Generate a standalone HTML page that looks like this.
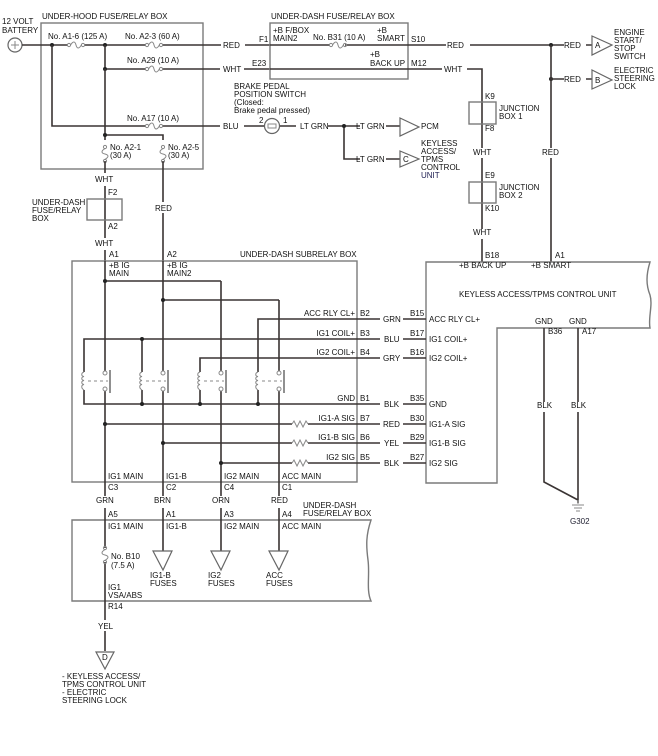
<!DOCTYPE html>
<html><head><meta charset="utf-8"><style>
html,body{margin:0;padding:0;background:#fff;}
svg{display:block;font-family:"Liberation Sans",Arial,sans-serif;font-size:8px;}
text{fill:#111;}
.w{stroke:#3a3433;stroke-width:1.6;fill:none;}
.b{stroke:#7a7a7a;stroke-width:1.4;fill:none;}
.t{stroke:#666;stroke-width:1.2;fill:#fff;}
.f{stroke:#888;stroke-width:1;fill:none;}
.n{fill:#222;}
</style></head><body>
<svg width="658" height="756" viewBox="0 0 658 756" xmlns="http://www.w3.org/2000/svg">
<defs>
<g id="fh"><circle cx="-7" cy="0" r="1.6" class="f"/><circle cx="7" cy="0" r="1.6" class="f"/><path d="M-5.4,0 C-3,-4 -1,-4 0,0 C1,4 3,4 5.4,0" class="f"/></g>
<g id="fv"><circle cx="0" cy="-7" r="1.6" class="f"/><circle cx="0" cy="7" r="1.6" class="f"/><path d="M0,-5.4 C-4,-3 -4,-1 0,0 C4,1 4,3 0,5.4" class="f"/></g>
<g id="res"><path d="M-8,0 L-6,-3 L-3,3 L0,-3 L3,3 L6,-3 L8,0" class="f"/></g>
<g id="coil"><path d="M0,-9 C-3,-8 -3,-5 0,-4.5 C-3,-4 -3,-1 0,-0.5 C-3,0 -3,3 0,3.5 C-3,4 -3,7 0,9" class="f"/></g>
</defs>

<!-- battery -->
<text x="2" y="24">12 VOLT</text><text x="2" y="33">BATTERY</text>
<circle cx="15" cy="45" r="7" class="t"/><path d="M11,45h8M15,41v8" class="f"/>

<!-- under-hood box -->
<text x="42" y="19">UNDER-HOOD FUSE/RELAY BOX</text>
<rect x="41" y="23" width="162" height="146" class="b"/>
<path class="w" d="M22,45H68 M84,45H146 M162,45H221 M245,45H270"/>
<use href="#fh" x="76" y="45"/><use href="#fh" x="154" y="45"/>
<text x="48" y="39">No. A1-6 (125 A)</text><text x="125" y="39">No. A2-3 (60 A)</text>
<text x="223" y="48">RED</text>
<circle cx="52" cy="45" r="2" class="n"/><circle cx="105" cy="45" r="2" class="n"/>
<path class="w" d="M105,45V69H146 M162,69H220 M244,69H270"/>
<circle cx="105" cy="69" r="2" class="n"/>
<use href="#fh" x="154" y="69"/>
<text x="127" y="63">No. A29 (10 A)</text><text x="223" y="72">WHT</text>
<path class="w" d="M52,45V126H146 M162,126H220 M244,126H264"/>
<use href="#fh" x="154" y="126"/>
<text x="127" y="121">No. A17 (10 A)</text><text x="223" y="129">BLU</text>
<path class="w" d="M105,69V140 M105,135H163V140"/>
<circle cx="105" cy="135" r="2" class="n"/>
<use href="#fv" x="105" y="154"/><use href="#fv" x="163" y="154"/>
<text x="110" y="150">No. A2-1</text><text x="110" y="158">(30 A)</text>
<text x="168" y="150">No. A2-5</text><text x="168" y="158">(30 A)</text>
<path class="w" d="M105,161V173 M105,186V238 M105,250V261 M163,161V202 M163,213V261"/>
<text x="95" y="182">WHT</text><text x="95" y="246">WHT</text><text x="155" y="211">RED</text>
<rect x="87" y="199" width="35" height="21" class="b"/>
<text x="108" y="195">F2</text><text x="108" y="229">A2</text>
<text x="32" y="205">UNDER-DASH</text><text x="32" y="213">FUSE/RELAY</text><text x="32" y="221">BOX</text>

<!-- brake switch -->
<text x="234" y="89">BRAKE PEDAL</text><text x="234" y="97">POSITION SWITCH</text>
<text x="234" y="105">(Closed:</text><text x="234" y="113">Brake pedal pressed)</text>
<circle cx="272" cy="126" r="7.5" class="t"/><rect x="268" y="124" width="8" height="4" class="f"/>
<text x="259" y="123">2</text><text x="283" y="123">1</text>
<path class="w" d="M280,126H296 M328,126H360 M344,126V159H360 M386,126H400 M386,159H400"/>
<circle cx="344" cy="126" r="2" class="n"/>
<text x="300" y="129">LT GRN</text><text x="356" y="129">LT GRN</text><text x="356" y="162">LT GRN</text>
<path class="t" d="M400,118L419,127L400,136Z"/><text x="421" y="129">PCM</text>
<path class="t" d="M400,151L419,159L400,167Z"/><text x="403" y="162">C</text>
<text x="421" y="146">KEYLESS</text><text x="421" y="154">ACCESS/</text><text x="421" y="162">TPMS</text><text x="421" y="170">CONTROL</text><text x="421" y="178" style="fill:#225">UNIT</text>

<!-- under-dash fuse/relay box top -->
<text x="271" y="19">UNDER-DASH FUSE/RELAY BOX</text>
<rect x="270" y="23" width="138" height="56" class="b"/>
<text x="273" y="33">+B F/BOX</text><text x="273" y="41">MAIN2</text><text x="259" y="42">F1</text>
<text x="252" y="66">E23</text>
<path class="w" d="M270,45H330 M345,45H446 M470,45H564 M586,45H592"/>
<use href="#fh" x="338" y="45"/>
<text x="313" y="40">No. B31 (10 A)</text>
<text x="377" y="33">+B</text><text x="377" y="41">SMART</text><text x="411" y="42">S10</text>
<text x="370" y="57">+B</text><text x="370" y="66">BACK UP</text><text x="411" y="66">M12</text>
<path class="w" d="M270,69H442 M467,69H482V148 M482,158V229 M482,239V262"/>
<text x="447" y="48">RED</text><text x="444" y="72">WHT</text>
<circle cx="551" cy="45" r="2" class="n"/><circle cx="551" cy="79" r="2" class="n"/>
<path class="w" d="M551,45V148 M551,158V262 M551,79H564 M586,79H592"/>
<text x="564" y="48">RED</text><text x="564" y="82">RED</text><text x="542" y="155">RED</text>
<path class="t" d="M592,36L612,45L592,55Z"/><text x="595" y="48">A</text>
<path class="t" d="M592,70L612,80L592,89Z"/><text x="595" y="83">B</text>
<text x="614" y="35">ENGINE</text><text x="614" y="43">START/</text><text x="614" y="51">STOP</text><text x="614" y="59">SWITCH</text>
<text x="614" y="73">ELECTRIC</text><text x="614" y="81">STEERING</text><text x="614" y="89">LOCK</text>
<rect x="469" y="102" width="27" height="22" class="b"/><rect x="469" y="182" width="27" height="21" class="b"/>
<text x="485" y="99">K9</text><text x="485" y="131">F8</text><text x="499" y="111">JUNCTION</text><text x="499" y="119">BOX 1</text>
<text x="473" y="155">WHT</text>
<text x="485" y="178">E9</text><text x="485" y="211">K10</text><text x="499" y="190">JUNCTION</text><text x="499" y="198">BOX 2</text>
<text x="473" y="235">WHT</text>
<text x="485" y="258">B18</text><text x="555" y="258">A1</text>

<!-- keyless unit -->
<path class="b" d="M426,262H650 C646,275 646,285 650,295 C653,305 648,318 650,328 H497V483H426Z"/>
<text x="459" y="268">+B BACK UP</text><text x="531" y="268">+B SMART</text>
<text x="459" y="297">KEYLESS ACCESS/TPMS CONTROL UNIT</text>
<text x="535" y="324">GND</text><text x="569" y="324">GND</text>
<text x="548" y="334">B36</text><text x="582" y="334">A17</text>
<path class="w" d="M544,328V402 M544,412V482L578,500 M578,328V402 M578,412V503"/>
<text x="537" y="408">BLK</text><text x="571" y="408">BLK</text>
<path class="f" d="M578,500V504 M572,505H584 M574,508H582 M576,511H580"/>
<text x="570" y="524" style="fill:#223">G302</text>

<!-- subrelay box -->
<text x="240" y="257">UNDER-DASH SUBRELAY BOX</text>
<rect x="72" y="261" width="285" height="221" class="b"/>
<text x="109" y="257">A1</text><text x="167" y="257">A2</text>
<text x="109" y="268">+B IG</text><text x="109" y="276">MAIN</text>
<text x="167" y="268">+B IG</text><text x="167" y="276">MAIN2</text>
<!-- main verticals -->
<path class="w" d="M105,261V371 M105,391V496 M163,261V371 M163,391V496 M221,281V371 M221,391V496 M279,300V371 M279,391V496"/>
<path class="w" d="M105,281H221 M163,300H279"/>
<circle cx="105" cy="281" r="2" class="n"/><circle cx="163" cy="300" r="2" class="n"/>
<!-- coil lines -->
<path class="w" d="M258,372V319H380 M84,372V339H380 M200,372V358H380 M142,339V372"/>
<circle cx="142" cy="339" r="2" class="n"/>
<path class="w" d="M84,390V404H380 M142,390V404 M200,390V404 M258,390V404"/>
<circle cx="142" cy="404" r="2" class="n"/><circle cx="200" cy="404" r="2" class="n"/><circle cx="258" cy="404" r="2" class="n"/>
<!-- relays -->
<g>
<use href="#coil" x="84" y="381"/><use href="#coil" x="142" y="381"/><use href="#coil" x="200" y="381"/><use href="#coil" x="258" y="381"/>
<path class="f" stroke-dasharray="3,3" d="M88,381H108 M146,381H166 M204,381H224 M262,381H282"/>
<circle cx="105" cy="373" r="2" class="f"/><circle cx="105" cy="389" r="2" class="f"/><path d="M110,370V393" stroke="#555" stroke-width="1.3"/>
<circle cx="163" cy="373" r="2" class="f"/><circle cx="163" cy="389" r="2" class="f"/><path d="M168,370V393" stroke="#555" stroke-width="1.3"/>
<circle cx="221" cy="373" r="2" class="f"/><circle cx="221" cy="389" r="2" class="f"/><path d="M226,370V393" stroke="#555" stroke-width="1.3"/>
<circle cx="279" cy="373" r="2" class="f"/><circle cx="279" cy="389" r="2" class="f"/><path d="M284,370V393" stroke="#555" stroke-width="1.3"/>
</g>
<!-- signals -->
<path class="w" d="M105,424H292 M308,424H380 M163,443H292 M308,443H380 M221,463H292 M308,463H380"/>
<circle cx="105" cy="424" r="2" class="n"/><circle cx="163" cy="443" r="2" class="n"/><circle cx="221" cy="463" r="2" class="n"/>
<use href="#res" x="300" y="424"/><use href="#res" x="300" y="443"/><use href="#res" x="300" y="463"/>
<g text-anchor="end">
<text x="355" y="316">ACC RLY CL+</text><text x="355" y="336">IG1 COIL+</text><text x="355" y="355">IG2 COIL+</text>
<text x="355" y="401">GND</text><text x="355" y="421">IG1-A SIG</text><text x="355" y="440">IG1-B SIG</text><text x="355" y="460">IG2 SIG</text>
</g>
<g>
<text x="360" y="316">B2</text><text x="360" y="336">B3</text><text x="360" y="355">B4</text><text x="360" y="401">B1</text><text x="360" y="421">B7</text><text x="360" y="440">B6</text><text x="360" y="460">B5</text>
<text x="383" y="322">GRN</text><text x="384" y="342">BLU</text><text x="383" y="361">GRY</text><text x="384" y="407">BLK</text><text x="383" y="427">RED</text><text x="384" y="446">YEL</text><text x="384" y="466">BLK</text>
<text x="410" y="316">B15</text><text x="410" y="336">B17</text><text x="410" y="355">B16</text><text x="410" y="401">B35</text><text x="410" y="421">B30</text><text x="410" y="440">B29</text><text x="410" y="460">B27</text>
<text x="429" y="322">ACC RLY CL+</text><text x="429" y="342">IG1 COIL+</text><text x="429" y="361">IG2 COIL+</text><text x="429" y="407">GND</text><text x="429" y="427">IG1-A SIG</text><text x="429" y="446">IG1-B SIG</text><text x="429" y="466">IG2 SIG</text>
</g>
<path class="w" d="M403,319H426 M403,339H426 M403,358H426 M403,404H426 M403,424H426 M403,443H426 M403,463H426"/>
<text x="108" y="479">IG1 MAIN</text><text x="166" y="479">IG1-B</text><text x="224" y="479">IG2 MAIN</text><text x="282" y="479">ACC MAIN</text>
<text x="108" y="490">C3</text><text x="166" y="490">C2</text><text x="224" y="490">C4</text><text x="282" y="490">C1</text>
<text x="96" y="503">GRN</text><text x="154" y="503">BRN</text><text x="212" y="503">ORN</text><text x="271" y="503">RED</text>

<!-- lower under-dash box -->
<path class="b" d="M72,520H371 C366,535 366,545 368,560 C370,575 366,590 371,601H72Z"/>
<text x="303" y="508">UNDER-DASH</text><text x="303" y="516">FUSE/RELAY BOX</text>
<path class="w" d="M105,508V548 M105,562V620 M105,631V651 M163,508V551 M221,508V551 M279,508V551"/>
<use href="#fv" x="105" y="555"/>
<text x="108" y="517">A5</text><text x="166" y="517">A1</text><text x="224" y="517">A3</text><text x="282" y="517">A4</text>
<text x="108" y="529">IG1 MAIN</text><text x="166" y="529">IG1-B</text><text x="224" y="529">IG2 MAIN</text><text x="282" y="529">ACC MAIN</text>
<text x="111" y="559">No. B10</text><text x="111" y="568">(7.5 A)</text>
<text x="108" y="590">IG1</text><text x="108" y="598">VSA/ABS</text><text x="108" y="609">R14</text>
<text x="98" y="629">YEL</text>
<path class="t" d="M153,551H172L163,570Z M211,551H230L221,570Z M269,551H288L279,570Z M96,652H114L105,669Z"/>
<text x="102" y="660">D</text>
<text x="150" y="578">IG1-B</text><text x="150" y="586">FUSES</text>
<text x="208" y="578">IG2</text><text x="208" y="586">FUSES</text>
<text x="266" y="578">ACC</text><text x="266" y="586">FUSES</text>
<text x="62" y="679">- KEYLESS ACCESS/</text><text x="62" y="687">TPMS CONTROL UNIT</text><text x="62" y="695">- ELECTRIC</text><text x="62" y="703">STEERING LOCK</text>
</svg>
</body></html>
